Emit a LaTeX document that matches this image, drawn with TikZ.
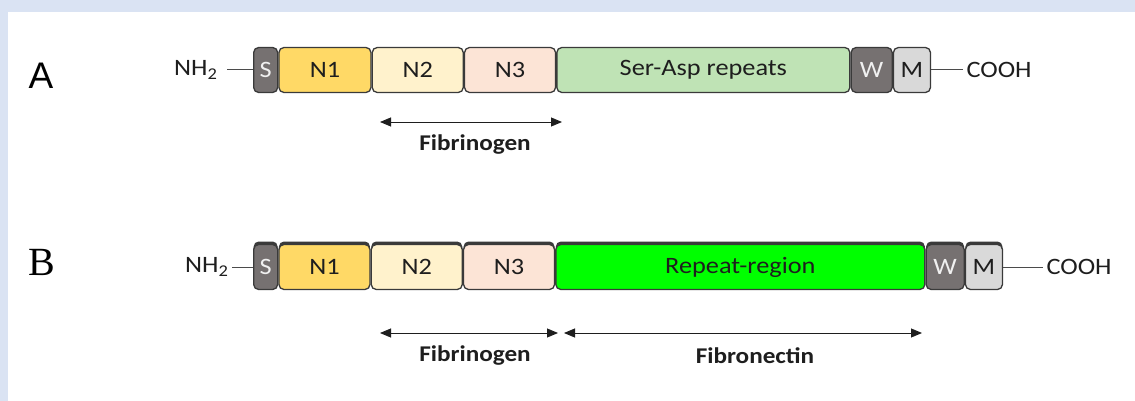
\documentclass[tikz,border=0pt]{standalone}
\usepackage{fontspec}
\setmainfont{Carlito}[FakeStretch=1.12]
\newfontfamily\panelsans{Liberation Sans}
\newfontfamily\panelserif{Liberation Serif}
\usetikzlibrary{arrows.meta, positioning}
\definecolor{bgblue}{HTML}{DAE3F3}
\definecolor{edgegray}{HTML}{3A3A3A}
\definecolor{textdark}{HTML}{1E1E1E}
\definecolor{sgray}{HTML}{767171}
\definecolor{mgray}{HTML}{D9D9D9}
\definecolor{nonegold}{HTML}{FFD966}
\definecolor{ntwocream}{HTML}{FFF2CC}
\definecolor{nthreepeach}{HTML}{FCE4D6}
\definecolor{sdgreen}{HTML}{BFE3B5}
\definecolor{repgreen}{HTML}{00FF00}
\tikzset{
  protbox/.style={
    draw=edgegray,
    line width=1.3pt,
    rounded corners=5pt,
    minimum height=45pt,
    inner sep=0pt,
    text=textdark,
    font=\fontsize{23.5}{26}\selectfont
  },
  dark protbox/.style={
    protbox,
    fill=sgray,
    text=white!88!gray
  },
  raised/.style={
    preaction={fill=edgegray, transform canvas={yshift=3pt}}
  },
  tail line/.style={
    draw=textdark!80,
    line width=1pt
  },
  span arrow/.style={
    {Triangle[length=11pt,width=9pt]}-{Triangle[length=11pt,width=9pt]},
    line width=0.9pt,
    draw=textdark
  },
  span label/.style={
    font=\bfseries\fontsize{22.5}{26}\selectfont,
    text=textdark
  },
  end label/.style={
    font=\fontsize{23.5}{26}\selectfont,
    text=textdark
  }
}

\begin{document}
\begin{tikzpicture}[x=1pt, y=-1pt]
    % Hintergrund und weisses Feld
    \fill[bgblue] (0,0) rectangle (1135,401);
    \fill[white] (8,12) rectangle (1135,401);
    \useasboundingbox (0,0) rectangle (1135,401);

    % Panel A
    \node[font=\fontsize{37}{40}\selectfont] (labA) at (41,76) {\panelsans A};
    \node[end label, anchor=east] (nhA) at (221,70) {NH\textsubscript{2}};
    \node[dark protbox, minimum width=24pt, anchor=west] (sA) at (253,70) {S};
    \node[protbox, fill=nonegold, minimum width=92pt, right=0pt of sA] (noneA) {N1};
    \node[protbox, fill=ntwocream, minimum width=91pt, right=0pt of noneA] (ntwoA) {N2};
    \node[protbox, fill=nthreepeach, minimum width=91pt, right=0pt of ntwoA] (nthreeA) {N3};
    \node[protbox, fill=sdgreen, minimum width=293pt, right=0pt of nthreeA] (sdA) {Ser-Asp repeats};
    \node[dark protbox, minimum width=41pt, right=0pt of sdA] (wA) {W};
    \node[protbox, fill=mgray, minimum width=37pt, right=0pt of wA] (mA) {M};
    \node[end label, anchor=west] (coA) at (963,70) {COOH};
    \draw[tail line] ([xshift=6pt]nhA.east) -- (sA.west);
    \draw[tail line] (mA.east) -- (coA.west);

    \coordinate (fgAl) at (380,122);
    \coordinate (fgAr) at (562,122);
    \draw[span arrow] (fgAl) -- (fgAr);
    \node[span label] (fgtA) at (475,145) {Fibrinogen};

    % Panel B
    \node[font=\fontsize{40}{44}\selectfont] (labB) at (42,262) {\panelserif B};
    \node[end label, anchor=east] (nhB) at (232,267) {NH\textsubscript{2}};
    \node[dark protbox, raised, minimum width=24pt, anchor=west] (sB) at (253,267) {S};
    \node[protbox, raised, fill=nonegold, minimum width=91pt, right=0pt of sB] (noneB) {N1};
    \node[protbox, raised, fill=ntwocream, minimum width=91pt, right=0pt of noneB] (ntwoB) {N2};
    \node[protbox, raised, fill=nthreepeach, minimum width=91pt, right=0pt of ntwoB] (nthreeB) {N3};
    \node[protbox, raised, fill=repgreen, minimum width=369pt, right=0pt of nthreeB] (repB) {Repeat-region};
    \node[dark protbox, raised, minimum width=38pt, right=0pt of repB] (wB) {W};
    \node[protbox, raised, fill=mgray, minimum width=37pt, right=0pt of wB] (mB) {M};
    \node[end label, anchor=west] (coB) at (1043,267) {COOH};
    \draw[tail line] (nhB.east) -- (sB.west);
    \draw[tail line] (mB.east) -- (coB.west);

    \coordinate (fgBl) at (380,333);
    \coordinate (fgBr) at (558,333);
    \coordinate (fnBl) at (564,333);
    \coordinate (fnBr) at (922,333);
    \draw[span arrow] (fgBl) -- (fgBr);
    \draw[span arrow] (fnBl) -- (fnBr);
    \node[span label] (fgtB) at (475,356) {Fibrinogen};
    \node[span label] (fntB) at (755,356) {Fibronectin};
\end{tikzpicture}
\end{document}
